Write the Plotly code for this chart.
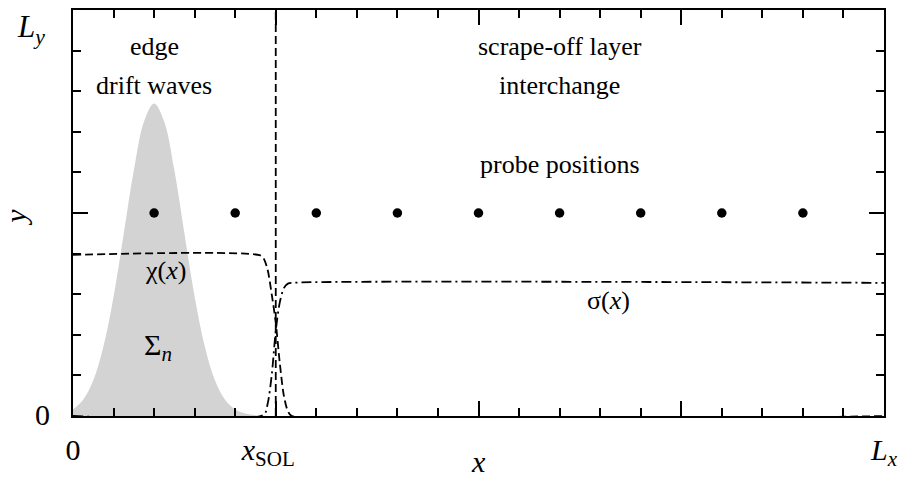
import plotly.graph_objects as go

# ---- data ----
x_tickvals = [0, 5, 10, 15, 20]
x_ticktext = ["0", "<i>x</i><sub>SOL</sub>&nbsp;&nbsp;", " ", " ", "<i>L<sub>x</sub></i>"]
y_tickvals = [0, 5, 10]
y_ticktext = ["0", "<i>L<sub>y</sub></i>"]

x_sol = 5
x_max = 20
y_max = 10

probe_x = [2, 4, 6, 8, 10, 12, 14, 16, 18]
probe_y = [5, 5, 5, 5, 5, 5, 5, 5, 5]

sigma_n_x = [0, 0.25, 0.5, 0.75, 1.0, 1.25, 1.5, 1.75, 2.0, 2.25, 2.5, 2.75,
             3.0, 3.25, 3.5, 3.75, 4.0, 4.25, 4.5, 5.0]
sigma_n_y = [0.16, 0.40, 0.88, 1.71, 2.94, 4.48, 6.05, 7.25, 7.70, 7.25, 6.05, 4.48,
             2.94, 1.71, 0.88, 0.40, 0.16, 0.06, 0.02, 0.0]

chi_x = [0, 4.6, 4.7, 4.8, 4.9, 5.0, 5.1, 5.2, 5.3, 5.4, 20]
chi_y = [3.97, 3.96, 3.88, 3.6, 3.0, 2.3, 1.3, 0.5, 0.12, 0.0, 0.0]

sig_x = [0, 4.7, 4.8, 4.9, 5.0, 5.1, 5.2, 5.3, 5.4, 20]
sig_y = [0, 0.03, 0.3, 1.0, 2.1, 2.8, 3.15, 3.26, 3.28, 3.28]

FONT = "Liberation Serif"

fig = go.Figure()

fig.add_trace(go.Scatter(x=sigma_n_x, y=sigma_n_y, mode="lines", fill="tozeroy",
                         fillcolor="#d3d3d3", line=dict(width=0, shape="spline", color="#d3d3d3"),
                         hoverinfo="skip", showlegend=False))
fig.add_trace(go.Scatter(x=chi_x, y=chi_y, mode="lines",
                         line=dict(color="black", width=1.8, dash="8px,4px", shape="spline", smoothing=0.8),
                         showlegend=False))
fig.add_trace(go.Scatter(x=sig_x, y=sig_y, mode="lines",
                         line=dict(color="black", width=1.8, dash="10px,4px,2px,4px", shape="spline", smoothing=0.8),
                         showlegend=False))
fig.add_trace(go.Scatter(x=[x_sol, x_sol], y=[0, y_max], mode="lines",
                         line=dict(color="black", width=1.8, dash="8px,4px"), showlegend=False))
fig.add_trace(go.Scatter(x=probe_x, y=probe_y, mode="markers",
                         marker=dict(color="black", size=9.5), showlegend=False))

ann = [
    dict(x=2, y=9.1, text="edge", size=26),
    dict(x=2, y=8.15, text="drift waves", size=26),
    dict(x=12, y=9.1, text="scrape-off layer", size=26),
    dict(x=12, y=8.15, text="interchange", size=26),
    dict(x=12, y=6.2, text="probe positions", size=26),
    dict(x=2.27, y=3.58, text="χ(<i>x</i>)", size=26),
    dict(x=2.1, y=1.7, text="Σ<sub><i>n</i></sub>", size=30),
    dict(x=13.2, y=2.84, text="σ(<i>x</i>)", size=26),
]
annotations = []
for a in ann:
    annotations.append(dict(xref="x", yref="y", x=a["x"], y=a["y"], text=a["text"], showarrow=False,
                            font=dict(family=FONT, size=a["size"], color="black"),
                            xanchor="center", yanchor="middle"))
# y tick labels (annotations in paper coords, so L_y is not hidden at the top edge)
y_lab_pos = [(42, 414, 30), (31, 27, 31)]
for (px, py, fs), t in zip(y_lab_pos, y_ticktext):
    annotations.append(dict(xref="paper", yref="paper", x=(px - 73) / 819, y=(416 - py) / 408, text=t,
                            showarrow=False, font=dict(family=FONT, size=fs, color="black"),
                            xanchor="center", yanchor="middle"))
annotations.append(dict(xref="x", yref="paper", x=10, y=-0.113, text="<i>x</i>", showarrow=False,
                        font=dict(family=FONT, size=30, color="black"), xanchor="center", yanchor="middle"))
annotations.append(dict(xref="paper", yref="paper", x=-0.072, y=0.49, text="<i>y</i>", showarrow=False, textangle=-90,
                        font=dict(family=FONT, size=30, color="black"), xanchor="center", yanchor="middle"))

axis_common = dict(showgrid=False, zeroline=False, showline=True, linecolor="black", linewidth=2,
                   mirror="ticks", ticks="inside", ticklen=15, tickwidth=2, tickcolor="black",
                   tickfont=dict(family=FONT, size=30, color="black"),
                   minor=dict(ticks="inside", ticklen=8, tickwidth=2, tickcolor="black", dtick=1, showgrid=False))

fig.update_xaxes(range=[0, x_max], tickmode="array", tickvals=x_tickvals, ticktext=x_ticktext,
                 ticklabelstandoff=6, **axis_common)
fig.update_yaxes(range=[0, y_max], tickmode="array", tickvals=y_tickvals, ticktext=[" ", " ", " "],
                 **axis_common)

fig.update_layout(width=906, height=481, margin=dict(l=73, r=14, t=8, b=65),
                  plot_bgcolor="white", paper_bgcolor="white", annotations=annotations,
                  font=dict(family=FONT, color="black"))

fig.write_html("out.html")
